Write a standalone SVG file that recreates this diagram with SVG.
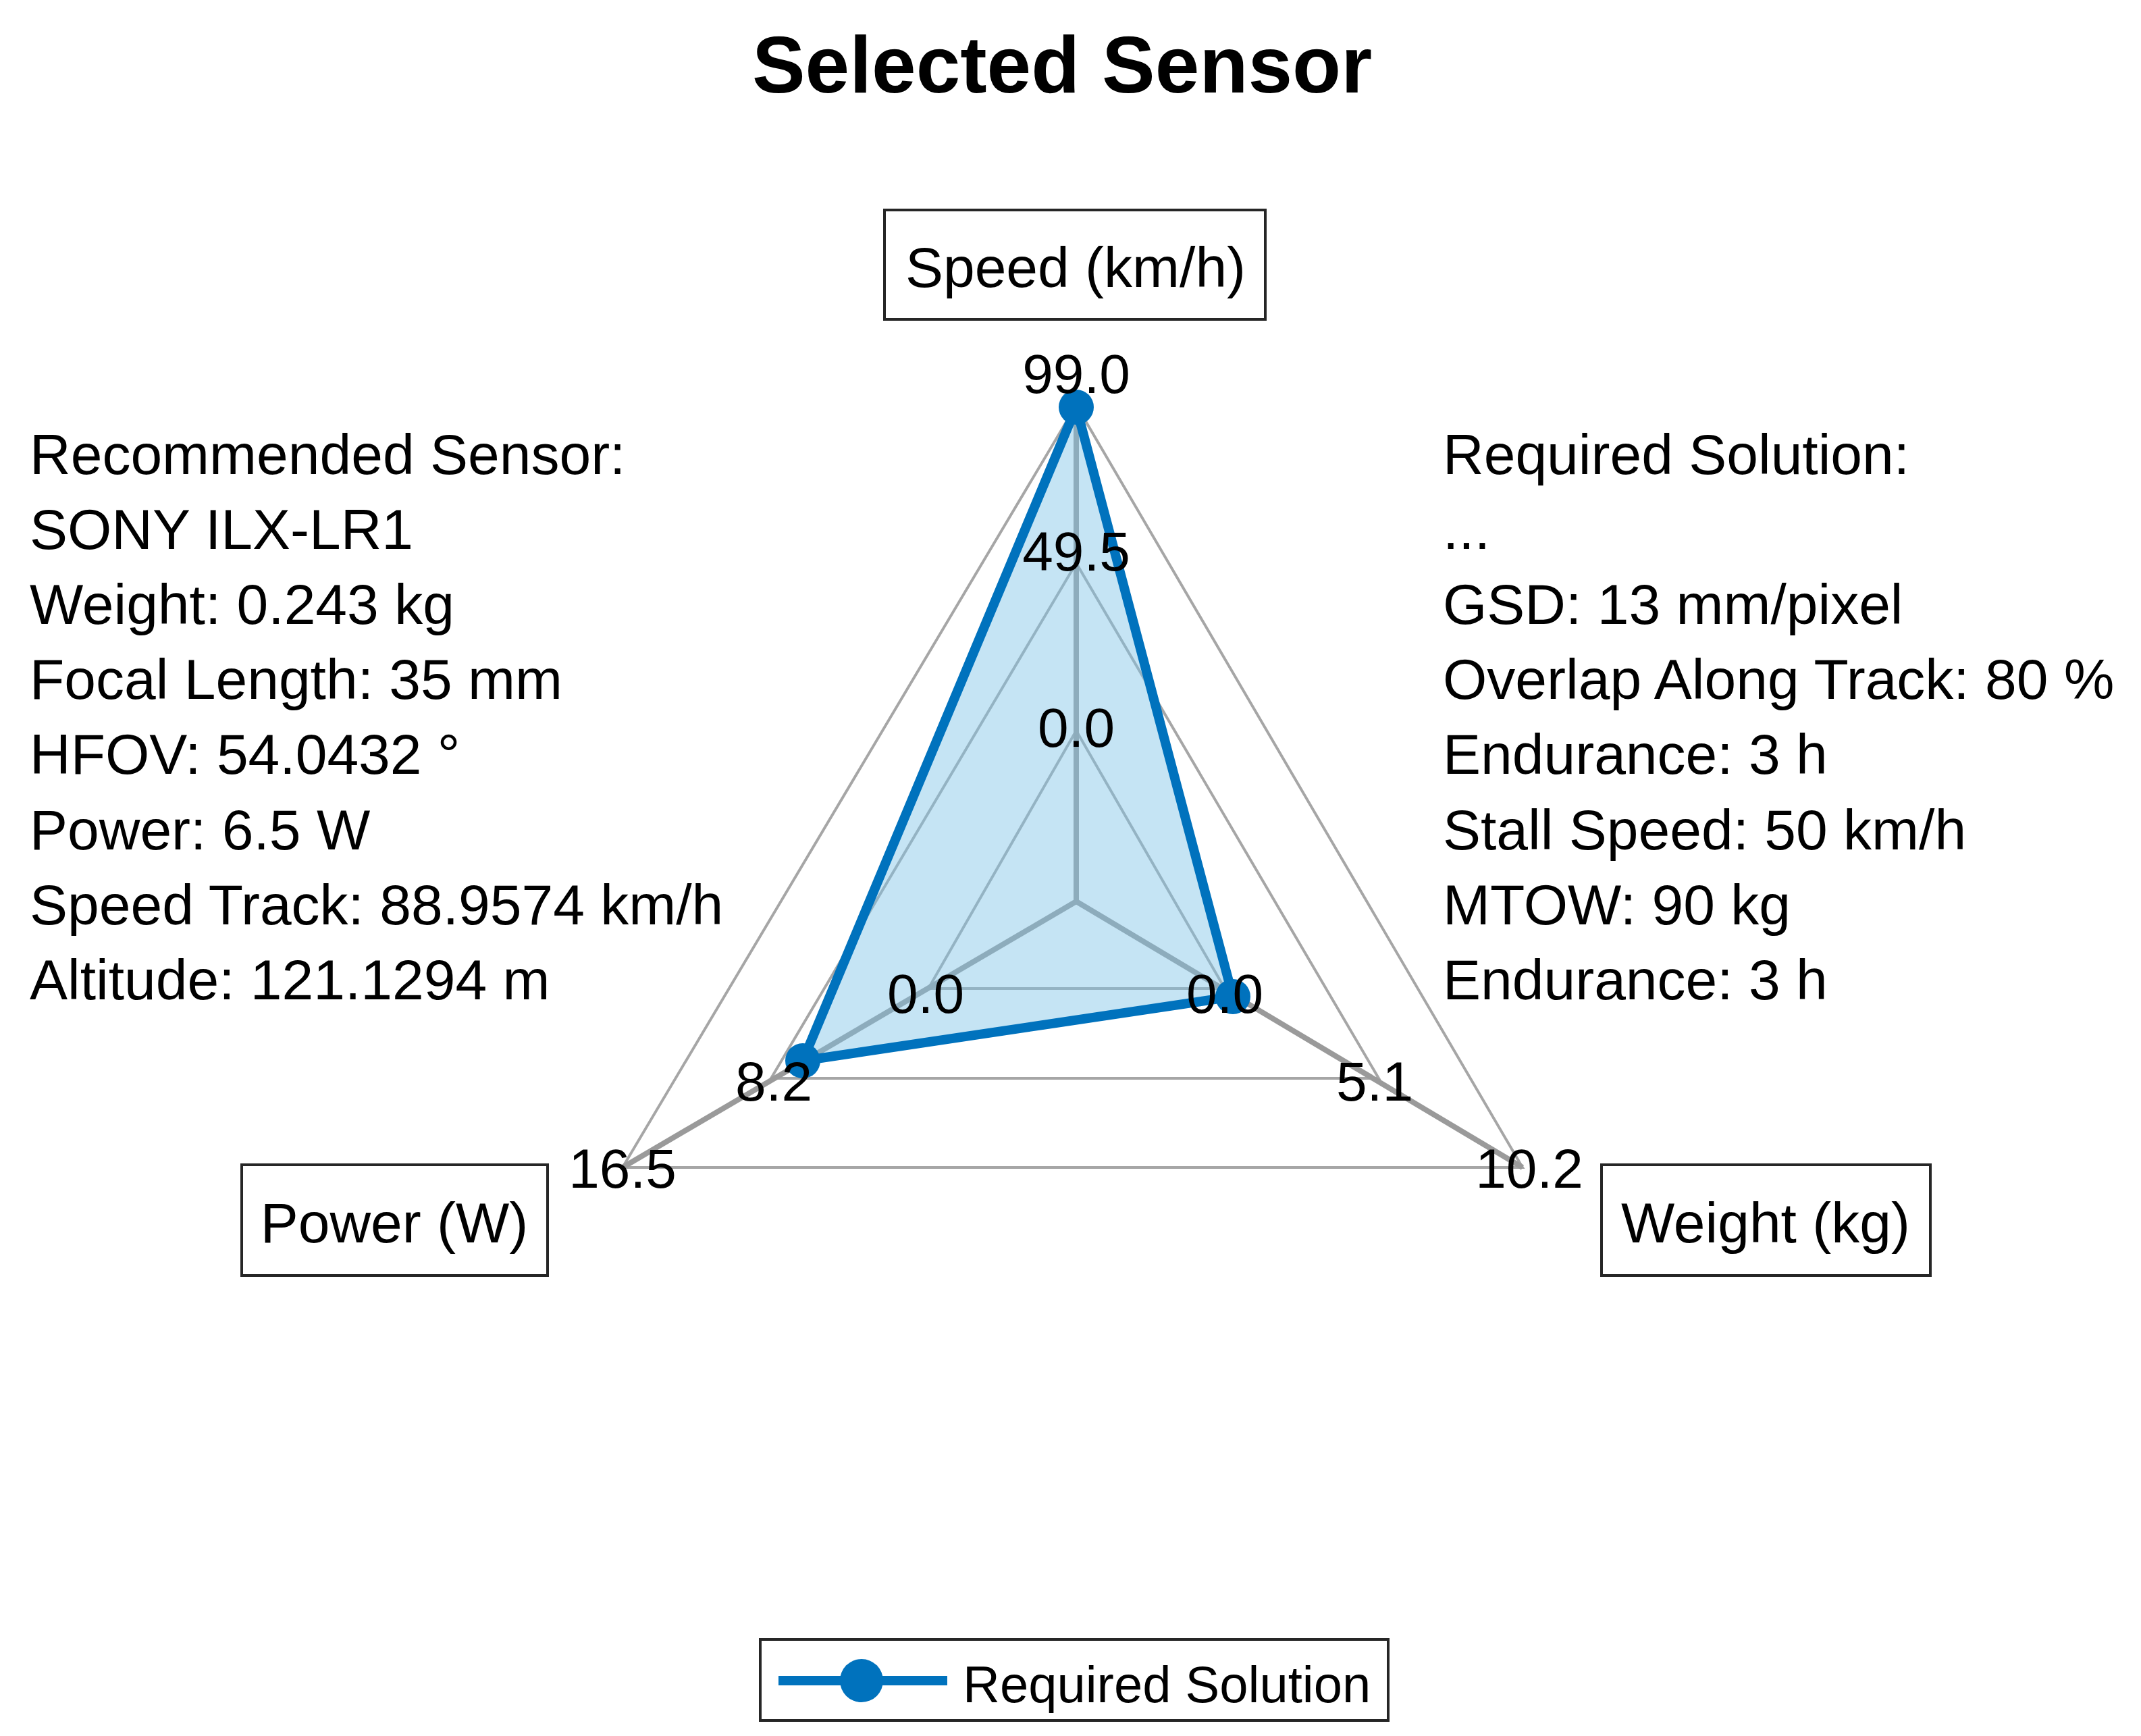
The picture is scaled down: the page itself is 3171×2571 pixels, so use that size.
<svg xmlns="http://www.w3.org/2000/svg" width="3171" height="2571" viewBox="0 0 3171 2571">
<style>
text{font-family:"Liberation Sans",Arial,sans-serif;fill:#000}
.t{font-size:84px}
.k{font-size:82px;text-anchor:middle}
.box{fill:#fff;stroke:#262626;stroke-width:4}
.grid{fill:none;stroke:#a6a6a6;stroke-width:4}
.spoke{stroke:#9a9a9a;stroke-width:8;fill:none}
</style>
<rect width="3171" height="2571" fill="#fff"/>
<text x="1573" y="137" font-size="118" font-weight="bold" text-anchor="middle">Selected Sensor</text>
<g id="grid">
<polygon class="grid" points="1594,600 922,1729 2255,1729"/>
<polygon class="grid" points="1594,834 1142,1597 2042,1597"/>
<polygon class="grid" points="1594,1082 1375,1464 1814,1464"/>
<g class="spoke">
<line x1="1594" y1="1335" x2="1594" y2="600"/>
<line x1="1594" y1="1335" x2="922" y2="1729"/>
<line x1="1594" y1="1335" x2="2255" y2="1729"/>
</g>
</g>
<g id="series">
<polygon points="1594,603 1189,1571 1826,1476" fill="#7ec3e6" fill-opacity="0.45" stroke="#0072bd" stroke-width="14" stroke-linejoin="round"/>
<circle cx="1594" cy="603" r="26" fill="#0072bd"/>
<circle cx="1189" cy="1571" r="26" fill="#0072bd"/>
<circle cx="1826" cy="1476" r="26" fill="#0072bd"/>
</g>
<g id="ticks">
<text class="k" x="1594" y="582">99.0</text>
<text class="k" x="1594" y="845">49.5</text>
<text class="k" x="1594" y="1106">0.0</text>
<text class="k" x="1371" y="1500">0.0</text>
<text class="k" x="1814" y="1500">0.0</text>
<text class="k" x="1146" y="1630">8.2</text>
<text class="k" x="2036" y="1630">5.1</text>
<text class="k" x="922" y="1759">16.5</text>
<text class="k" x="2265" y="1759">10.2</text>
</g>
<g id="speed-label">
<rect class="box" x="1310" y="311" width="564" height="162"/>
<text class="t" x="1593" y="425" text-anchor="middle">Speed (km/h)</text>
</g>
<g id="power-label">
<rect class="box" x="358" y="1725" width="453" height="164"/>
<text class="t" x="584" y="1840" text-anchor="middle">Power (W)</text>
</g>
<g id="weight-label">
<rect class="box" x="2372" y="1725" width="487" height="164"/>
<text class="t" x="2615" y="1840" text-anchor="middle">Weight (kg)</text>
</g>
<g id="left-info" class="t">
<text x="44" y="702">Recommended Sensor:</text>
<text x="44" y="813">SONY ILX-LR1</text>
<text x="44" y="924">Weight: 0.243 kg</text>
<text x="44" y="1035">Focal Length: 35 mm</text>
<text x="44" y="1146">HFOV: 54.0432 °</text>
<text x="44" y="1258">Power: 6.5 W</text>
<text x="44" y="1369">Speed Track: 88.9574 km/h</text>
<text x="44" y="1480">Altitude: 121.1294 m</text>
</g>
<g id="right-info" class="t">
<text x="2137" y="702">Required Solution:</text>
<text x="2137" y="813">...</text>
<text x="2137" y="924">GSD: 13 mm/pixel</text>
<text x="2137" y="1035">Overlap Along Track: 80 %</text>
<text x="2137" y="1146">Endurance: 3 h</text>
<text x="2137" y="1258">Stall Speed: 50 km/h</text>
<text x="2137" y="1369">MTOW: 90 kg</text>
<text x="2137" y="1480">Endurance: 3 h</text>
</g>
<g id="legend">
<rect class="box" x="1126" y="2428" width="930" height="120"/>
<line x1="1153" y1="2489" x2="1403" y2="2489" stroke="#0072bd" stroke-width="14"/>
<circle cx="1276" cy="2489" r="32" fill="#0072bd"/>
<text x="1426" y="2521" font-size="76">Required Solution</text>
</g>
</svg>
